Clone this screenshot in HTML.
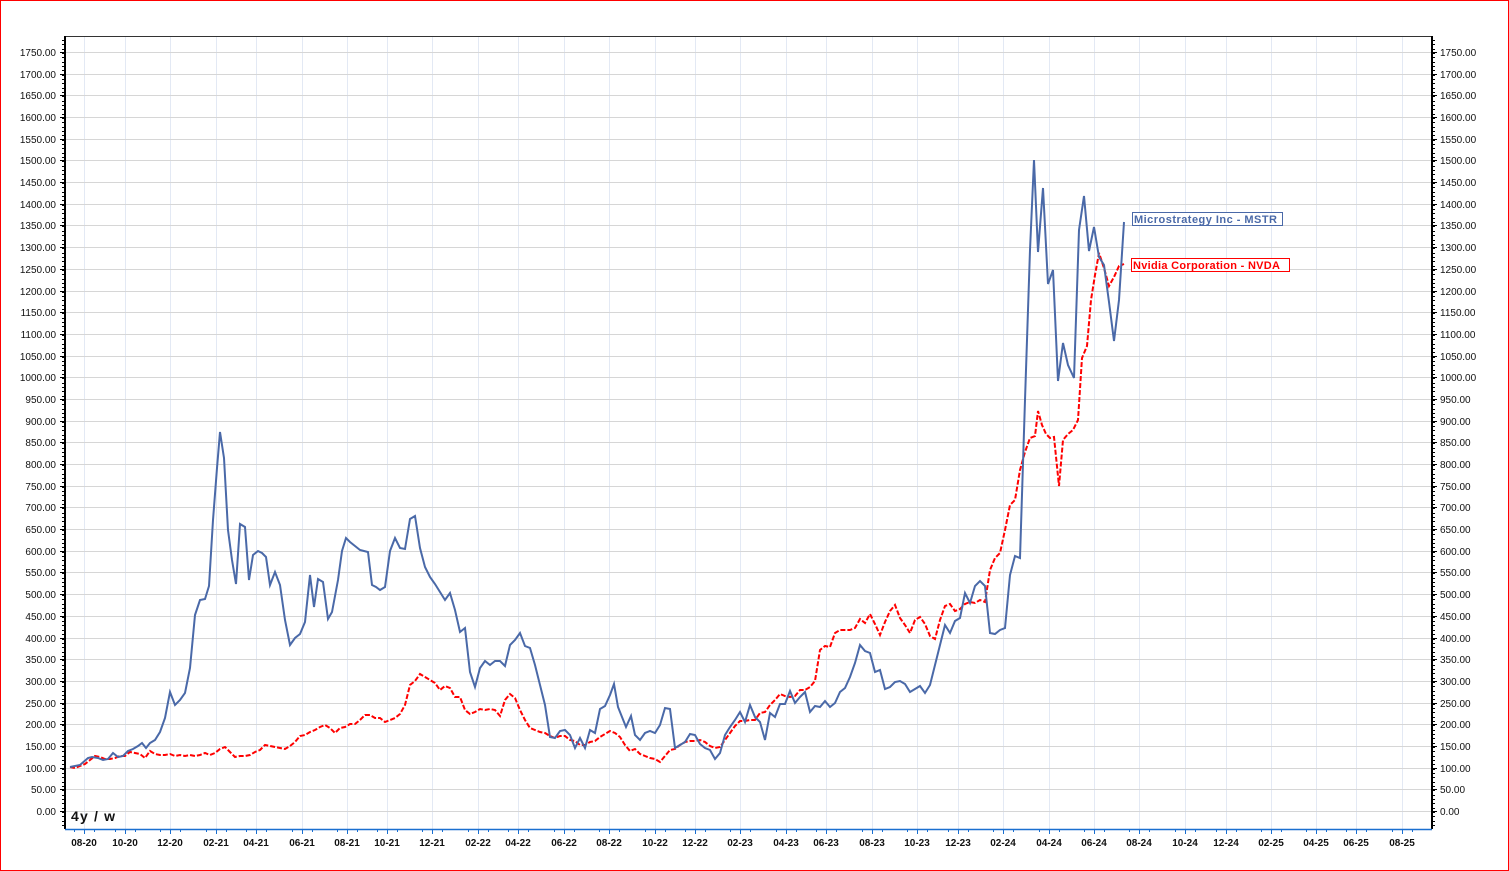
<!DOCTYPE html>
<html><head><meta charset="utf-8"><style>
html,body{margin:0;padding:0;background:#fff}
svg{display:block;font-family:"Liberation Sans",sans-serif}
</style></head><body>
<svg id="s" width="1509" height="871" viewBox="0 0 1509 871" xmlns="http://www.w3.org/2000/svg">
<rect x="0.5" y="0.5" width="1508" height="870" fill="#fff" stroke="#ff0000" stroke-width="1"/>
<g id="grid"></g>
<g id="axes"></g>
<polyline id="nvda" fill="none" stroke="#ff0000" stroke-width="2" stroke-dasharray="5,2" points="70,767 75,768 80,766 85,764 90,760 95,756 100,757 105,759 110,759 115,758 120,756 125,756 130,752 135,753 140,754 145,758 150,751 155,754 160,755 165,755 170,754 175,756 180,755 185,756 190,755 195,756 200,755 205,753 210,755 215,753 220,749 225,747 230,752 235,757 240,756 245,756 250,755 255,752 260,750 265,745 270,746 275,747 280,748 285,749 290,746 295,742 300,736 305,735 310,732 315,730 320,727 325,725 330,728 335,733 340,728 345,727 350,724 355,724 360,720 365,715 370,715 375,718 380,718 385,722 390,720 395,718 400,714 405,705 410,685 415,681 420,674 425,677 430,680 435,683 440,690 445,686 450,688 455,697 460,697 465,710 470,714 475,712 480,709 485,710 490,709 495,710 500,716 505,700 510,694 515,698 520,710 525,720 530,728 535,730 540,732 545,733 550,736 555,738 560,736 565,736 570,740 575,741 580,745 585,745 590,742 595,741 600,737 605,734 610,731 615,733 620,737 625,745 630,751 635,749 640,754 645,756 650,758 655,759 660,762 665,756 670,750 675,749 680,745 685,742 690,741 695,741 700,740 705,742 710,746 715,748 720,747 725,740 730,733 735,726 740,721 745,721 750,720 755,720 760,713 765,712 770,705 775,700 780,694 785,696 790,697 795,696 800,690 805,690 810,687 815,681 820,650 825,646 830,647 835,633 840,630 845,630 850,630 855,628 860,619 865,623 870,614 875,624 880,635 885,622 890,611 895,605 900,618 905,625 910,633 915,620 920,617 925,624 930,636 935,639 940,620 945,606 950,604 955,611 960,609 965,604 970,602 975,603 980,600 985,602 990,570 995,558 1000,553 1005,530 1010,505 1015,500 1020,470 1025,452 1030,438 1035,436 1038,411 1042,425 1046,434 1050,438 1054,437 1059,486 1063,440 1068,434 1073,430 1078,420 1082,358 1087,346 1091,300 1095,275 1099,253 1104,268 1109,286 1114,277 1119,266 1124,264"/>
<polyline id="mstr" fill="none" stroke="#4a69a8" stroke-width="2" points="70,767 80,765 88,758 92,757 98,758 103,760 108,759 113,753 118,757 123,756 128,751 133,749 138,746 142,743 146,748 150,743 155,740 160,732 165,718 170,692 175,705 180,700 185,693 190,668 195,615 200,600 205,599 209,586 213,520 217,468 220,432 224,458 228,530 232,560 236,584 240,524 245,527 249,580 253,555 258,551 262,553 266,557 270,585 275,572 280,585 285,620 290,645 295,638 300,634 305,622 310,575 314,607 318,579 323,582 328,619 332,612 338,580 342,551 346,538 350,542 355,546 360,550 364,551 368,552 372,585 376,587 380,590 385,587 390,551 395,538 400,548 405,549 410,519 415,516 420,548 425,567 430,577 435,584 440,592 445,600 450,593 455,610 460,632 465,628 470,672 475,687 480,668 485,661 490,665 495,661 500,661 505,666 510,645 515,640 520,633 525,646 530,648 535,665 540,685 545,705 550,737 555,738 560,731 565,730 570,735 575,748 580,738 585,748 590,730 595,733 600,709 605,706 610,695 614,684 618,707 622,717 626,727 631,716 635,735 640,740 645,733 650,731 655,733 660,725 665,708 670,709 675,748 680,745 685,742 690,734 695,735 700,744 705,748 710,750 715,759 720,753 725,735 730,727 735,720 740,712 745,722 750,705 755,717 760,722 765,740 770,713 775,717 780,704 785,704 790,691 795,703 800,697 805,692 810,712 815,706 820,707 825,701 830,707 835,703 840,692 845,688 850,677 855,663 860,645 865,651 870,653 875,672 880,670 885,689 890,687 895,682 900,681 905,684 910,692 915,689 920,686 925,693 930,685 935,665 940,645 945,625 950,633 955,621 960,618 965,593 970,603 975,586 980,581 985,586 990,633 995,634 1000,630 1005,628 1010,575 1015,556 1020,558 1025,400 1030,250 1034,160 1038,252 1043,188 1048,284 1053,270 1058,381 1063,343 1068,365 1074,378 1079,230 1084,196 1089,251 1094,227 1099,257 1104,265 1109,302 1114,341 1119,300 1124,222"/>
<rect x="1132.5" y="212.5" width="150" height="13" fill="#fff" stroke="#4a69a8"/>
<text x="1134" y="223" font-size="11" font-weight="bold" fill="#4a69a8" textLength="143" lengthAdjust="spacing">Microstrategy Inc - MSTR</text>
<rect x="1131.5" y="258.5" width="158" height="13" fill="#fff" stroke="#ff0000"/>
<text x="1133" y="269" font-size="11" font-weight="bold" fill="#ff0000" textLength="147" lengthAdjust="spacing">Nvidia Corporation - NVDA</text>
<text x="71" y="821" font-size="14" font-weight="bold" fill="#111" textLength="44" lengthAdjust="spacing">4y / w</text>
</svg>
<script>
var ns="http://www.w3.org/2000/svg";
function el(p,t,a,txt){var e=document.createElementNS(ns,t);for(var k in a)e.setAttribute(k,a[k]);if(txt!==undefined)e.textContent=txt;p.appendChild(e);return e;}
var g=document.getElementById('grid'),ax=document.getElementById('axes');
var L=65,R=1432,T=36,B=829;
var xs=[84,125,170,216,256,302,347,387,432,478,518,564,609,655,695,740,786,826,872,917,958,1003,1049,1094,1139,1185,1226,1271,1316,1356,1402];
var lb=["08-20","10-20","12-20","02-21","04-21","06-21","08-21","10-21","12-21","02-22","04-22","06-22","08-22","10-22","12-22","02-23","04-23","06-23","08-23","10-23","12-23","02-24","04-24","06-24","08-24","10-24","12-24","02-25","04-25","06-25","08-25"];
xs.forEach(function(x,i){el(g,'line',{x1:x+.5,x2:x+.5,y1:T,y2:B,stroke:'#e3e9f4','stroke-width':1});
el(ax,'text',{x:x,y:846,'font-size':10,'font-weight':'bold','text-anchor':'middle',fill:'#111'},lb[i]);
el(ax,'line',{x1:x+.5,x2:x+.5,y1:B,y2:B+5,stroke:'#1a6fd0'});
el(ax,'line',{x1:x+10.5,x2:x+10.5,y1:B,y2:B+3,stroke:'#1a6fd0'});
el(ax,'line',{x1:x-9.5,x2:x-9.5,y1:B,y2:B+3,stroke:'#1a6fd0'});});
for(var v=0;v<=1750;v+=50){var y=Math.round(811-v*0.43371)+.5;
el(g,'line',{x1:L,x2:R,y1:y,y2:y,stroke:'#d6d6d6','stroke-width':1});
var s=v.toFixed(2);
el(ax,'text',{x:56,y:y+3.5,'font-size':10,'text-anchor':'end',fill:'#111'},s);
el(ax,'text',{x:1440,y:y+3.5,'font-size':10,fill:'#111'},s);
el(ax,'line',{x1:L-5,x2:L,y1:y,y2:y,stroke:'#000'});el(ax,'line',{x1:R,x2:R+5,y1:y,y2:y,stroke:'#000'});}
for(var y2=T+4;y2<B;y2+=4.337){el(ax,'line',{x1:L-3,x2:L,y1:Math.round(y2)+.5,y2:Math.round(y2)+.5,stroke:'#000'});el(ax,'line',{x1:R,x2:R+3,y1:Math.round(y2)+.5,y2:Math.round(y2)+.5,stroke:'#000'});}
el(ax,'line',{x1:L,x2:R,y1:T+.5,y2:T+.5,stroke:'#333'});
el(ax,'line',{x1:L,x2:L,y1:T,y2:B,stroke:'#000','stroke-width':2});
el(ax,'line',{x1:R,x2:R,y1:T,y2:B,stroke:'#000','stroke-width':2});
el(ax,'line',{x1:L,x2:R,y1:B+.5,y2:B+.5,stroke:'#1a6fd0','stroke-width':1.5});
</script>
</body></html>
